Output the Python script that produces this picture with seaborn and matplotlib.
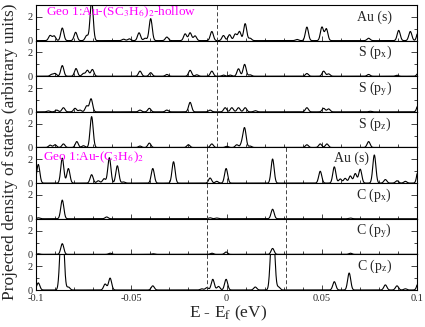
import numpy as np
import pandas as pd
import matplotlib
matplotlib.use("Agg")
import matplotlib.pyplot as plt
import seaborn as sns
from matplotlib.ticker import MultipleLocator, FixedLocator

sns.set_theme(style="ticks")
plt.rcParams['font.family'] = ['Liberation Serif', 'DejaVu Serif']
plt.rcParams['mathtext.fontset'] = 'stix'
plt.rcParams['axes.unicode_minus'] = False

# ---------------- data ----------------
panel_labels = ["Au (s)", "S (p$_\\mathrm{x}$)", "S (p$_\\mathrm{y}$)", "S (p$_\\mathrm{z}$)",
                "Au (s)", "C (p$_\\mathrm{x}$)", "C (p$_\\mathrm{y}$)", "C (p$_\\mathrm{z}$)"]
geo_titles = ["Geo 1:Au-(SC$_3$H$_6$)$_2$-hollow", "Geo 1:Au-(C$_3$H$_6$)$_2$"]
fermi_top = [-0.0048]
fermi_bottom = [-0.0104, 0.0312]
x_ticklabels = ["-0.1", "-0.05", "0", "0.05", "0.1"]

au_s_1_centers = [-0.0926, -0.0905, -0.0862, -0.0792, -0.0734, -0.0708, -0.0540, -0.0510, -0.0459,
                  -0.0427, -0.0398, -0.0313, -0.0217, -0.0191, -0.0165, -0.0077, -0.0016, 0.0016,
                  0.0046, 0.0068, 0.0098, 0.0124, 0.0370, 0.0422, 0.0501, 0.0524, 0.0746, 0.0904,
                  0.0965, 0.1008]
au_s_1_heights = [0.43, 0.40, 1.06, 0.70, 0.43, 3.40, 0.12, 0.15, 0.66,
                  0.20, 1.85, 0.30, 0.57, 0.66, 0.40, 0.77, 0.43, 0.50,
                  0.55, 0.77, 1.43, 0.20, 0.10, 1.14, 1.14, 1.00, 0.20, 0.86,
                  0.77, 0.90]

s_px_centers = [-0.0918, -0.0900, -0.0862, -0.0790, -0.0751, -0.0730, -0.0704, -0.0454, -0.0398,
                -0.0313, -0.0191, -0.0156, -0.0077, -0.0016, 0.0019, 0.0063, 0.0095, 0.0124,
                0.0422, 0.0510, 0.0536, 0.0746, 0.0895, 0.1008]
s_px_heights = [0.15, 0.23, 0.90, 0.65, 0.23, 0.50, 0.57, 0.43, 0.30,
                0.15, 0.50, 0.12, 0.43, 0.10, 0.10, 0.63, 1.00, 0.12,
                0.23, 0.43, 0.20, 0.15, 0.08, 0.30]

s_py_centers = [-0.0935, -0.0891, -0.0856, -0.0795, -0.0769, -0.0734, -0.0711, -0.0454, -0.0405,
                -0.0313, -0.0191, -0.0086, -0.0007, 0.0028, 0.0063, 0.0098, 0.0151, 0.0422,
                0.0510, 0.0536, 0.0755, 0.1008]
s_py_heights = [0.08, 0.15, 0.35, 0.30, 0.15, 0.50, 1.10, 0.15, 0.30,
                0.15, 0.80, 0.15, 0.35, 0.35, 0.35, 0.35, 0.10, 0.35,
                0.30, 0.25, 0.05, 0.70]

s_pz_centers = [-0.0926, -0.0900, -0.0856, -0.0786, -0.0751, -0.0708, -0.0454, -0.0405, -0.0200,
                -0.0077, 0.0002, 0.0054, 0.0081, 0.0095, 0.0124, 0.0422, 0.0492, 0.0527, 0.0746]
s_pz_heights = [0.20, 0.23, 0.30, 0.50, 0.15, 2.60, 0.12, 0.37, 0.23,
                0.30, 0.10, 0.23, 0.35, 1.60, 0.12, 0.23, 0.30, 0.30, 0.50]

au_s_2_centers = [-0.0988, -0.0862, -0.0830, -0.0708, -0.0673, -0.0643, -0.0615, -0.0573, -0.0541,
                  -0.0387, -0.0278, -0.0086, -0.0051, -0.0002, 0.0242, 0.0492, 0.0566, 0.0597,
                  0.0623, 0.0650, 0.0676, 0.0702, 0.0776, 0.0834, 0.0895, 0.0939, 0.1008]
au_s_2_heights = [1.57, 2.10, 1.23, 0.71, 0.20, 0.37, 2.14, 1.46, 0.10,
                  1.23, 1.80, 0.43, 0.15, 1.23, 2.03, 1.00, 1.37, 0.35,
                  0.40, 0.60, 0.80, 1.17, 2.37, 0.30, 0.20, 0.15, 1.30]

c_px_centers = [-0.0988, -0.0862, -0.0629, -0.0086, -0.0051, 0.0242, 0.0650]
c_px_heights = [0.08, 1.57, 0.15, 0.08, 0.06, 0.80, 0.06]

c_py_centers = [-0.0988, -0.0862, -0.0611, -0.0384, -0.0077, -0.0002, 0.0242, 0.0650]
c_py_heights = [0.05, 0.90, 0.10, 0.05, 0.10, 0.20, 0.50, 0.10]

c_pz_centers = [-0.0988, -0.0869, -0.0858, -0.0830, -0.0637, -0.0611, -0.0387, -0.0130, -0.0103,
                -0.0072, -0.0042, -0.0002, 0.0151, 0.0236, 0.0248, 0.0273, 0.0566, 0.0644,
                0.0834, 0.0895, 0.0939, 0.1008]
c_pz_heights = [0.60, 3.60, 3.60, 0.25, 0.50, 1.00, 0.35, 0.10, 0.20,
                0.90, 0.30, 0.90, 0.25, 3.50, 3.50, 0.25, 0.70, 1.43,
                0.43, 0.35, 0.10, 0.70]

panels = [(au_s_1_centers, au_s_1_heights), (s_px_centers, s_px_heights),
          (s_py_centers, s_py_heights), (s_pz_centers, s_pz_heights),
          (au_s_2_centers, au_s_2_heights), (c_px_centers, c_px_heights),
          (c_py_centers, c_py_heights), (c_pz_centers, c_pz_heights)]

SIGMA = 0.0008  # level broadening
energy = np.linspace(-0.1, 0.1, 2001)

fig, axes = plt.subplots(8, 1, figsize=(4.25, 3.27), dpi=100, sharex=True)
fig.subplots_adjust(left=36/425, right=417/425, top=1-5/327, bottom=1-290/327, hspace=0)

for i, (ax, (cen, hts)) in enumerate(zip(axes, panels)):
    dos = np.zeros_like(energy)
    for c, h in zip(cen, hts):
        dos += h * np.exp(-0.5 * ((energy - c) / SIGMA) ** 2)
    df = pd.DataFrame({"E": energy, "DOS": dos})
    sns.lineplot(data=df, x="E", y="DOS", ax=ax, color="black", linewidth=0.8)
    ax.set_xlim(-0.1, 0.1)
    ax.set_ylim(0, 3)
    ax.set_xlabel("")
    ax.set_ylabel("")
    for s in ax.spines.values():
        s.set_visible(True)
        s.set_linewidth(0.8)
        s.set_color("black")
    ax.yaxis.set_major_locator(FixedLocator([0, 2]))
    ax.yaxis.set_minor_locator(FixedLocator([1]))
    ax.set_yticklabels(["0", "2"])
    ax.xaxis.set_major_locator(MultipleLocator(0.05))
    ax.xaxis.set_minor_locator(MultipleLocator(0.01))
    ax.tick_params(axis="y", which="major", direction="in", left=True, right=True,
                   length=4.5, width=0.6, labelsize=7.5, pad=2.5)
    ax.tick_params(axis="y", which="minor", direction="in", left=True, right=True,
                   length=2.5, width=0.6)
    ax.tick_params(axis="x", which="major", direction="in", bottom=True, top=False,
                   length=3.5, width=0.6, labelsize=7.5, pad=3)
    ax.tick_params(axis="x", which="minor", direction="in", bottom=True, top=False,
                   length=2.5, width=0.6)
    lines = fermi_top if i < 4 else fermi_bottom
    for xv in lines:
        ax.axvline(xv, color="#444444", linewidth=0.7, linestyle=(0, (4, 2.5)))
    ylab = 0.61 if i == 4 else 0.56
    xlab = 0.873 if i == 4 else 0.935
    ax.text(xlab, ylab, panel_labels[i], transform=ax.transAxes, ha="right",
            va="baseline", fontsize=10)

axes[-1].set_xticks([-0.1, -0.05, 0, 0.05, 0.1])
axes[-1].set_xticklabels(x_ticklabels)

axes[0].text(0.026, 0.71, geo_titles[0], transform=axes[0].transAxes, ha="left",
             va="baseline", fontsize=9.5, color="#ff00ff")
axes[4].text(0.019, 0.635, geo_titles[1], transform=axes[4].transAxes, ha="left",
             va="baseline", fontsize=9.5, color="#ff00ff")

fig.text(10/425, 1-152/327, "Projected density of states (arbitrary units)", rotation=90,
         ha="center", va="center", fontsize=12.5)
fig.text(228/425, 1-313/327, "E - E$_\\mathrm{f}$ (eV)", ha="center", va="center", fontsize=12.5)

fig.savefig("out.png", dpi=100)
